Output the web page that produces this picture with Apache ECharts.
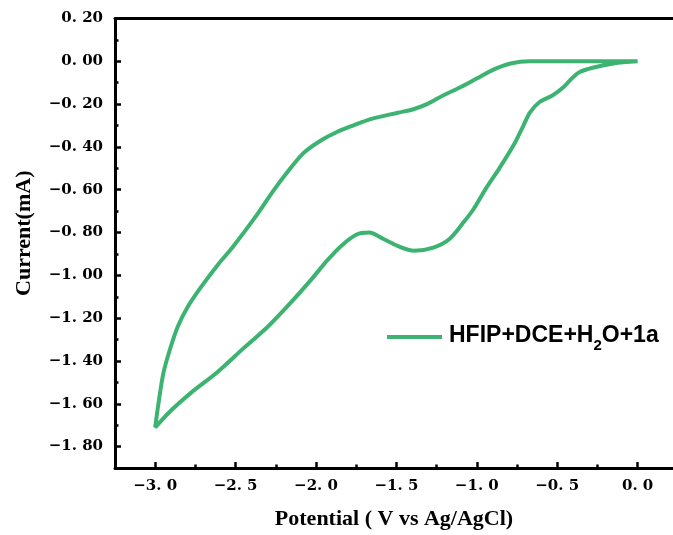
<!DOCTYPE html>
<html>
<head>
<meta charset="utf-8">
<script src="https://cdn.jsdelivr.net/npm/echarts@6/dist/echarts.min.js"></script>
<style>
  html, body { margin: 0; padding: 0; background: #ffffff; }
  #chart { width: 673px; height: 535px; }
</style>
</head>
<body>
<div id="chart"></div>
<script>
// Cathodic sweep: 0 V down to -3.0 V (reduction peak near -1.4 V)
const forwardPotential = [0.00, -0.15, -0.28, -0.36, -0.41, -0.46, -0.53, -0.61, -0.67, -0.71, -0.77, -0.86, -0.94, -1.02, -1.08, -1.17, -1.27, -1.39, -1.50, -1.58, -1.67, -1.75, -1.84, -1.93, -2.03, -2.16, -2.30, -2.45, -2.61, -2.78, -2.90, -3.00];
const forwardCurrent   = [0.00, -0.01, -0.03, -0.05, -0.08, -0.12, -0.16, -0.19, -0.24, -0.30, -0.39, -0.50, -0.59, -0.69, -0.75, -0.83, -0.87, -0.885, -0.86, -0.83, -0.80, -0.81, -0.86, -0.93, -1.02, -1.13, -1.24, -1.34, -1.45, -1.55, -1.63, -1.71];

// Return sweep: -3.0 V back to 0 V
const reversePotential = [-2.98, -2.95, -2.91, -2.86, -2.80, -2.72, -2.61, -2.52, -2.37, -2.27, -2.18, -2.08, -1.97, -1.87, -1.77, -1.66, -1.49, -1.40, -1.31, -1.21, -1.10, -1.00, -0.90, -0.79, -0.67, -0.44, 0.00];
const reverseCurrent   = [-1.60, -1.46, -1.35, -1.24, -1.15, -1.06, -0.95, -0.87, -0.72, -0.61, -0.52, -0.43, -0.37, -0.33, -0.30, -0.27, -0.24, -0.225, -0.20, -0.16, -0.12, -0.08, -0.04, -0.01, 0.00, 0.00, 0.00];

// Tick positions
const xMajorTicks = [-3.0, -2.5, -2.0, -1.5, -1.0, -0.5, 0.0];
const xMinorTicks = [-2.75, -2.25, -1.75, -1.25, -0.75, -0.25];
const yMajorTicks = [0.2, 0.0, -0.2, -0.4, -0.6, -0.8, -1.0, -1.2, -1.4, -1.6, -1.8];
const yMinorTicks = [0.1, -0.1, -0.3, -0.5, -0.7, -0.9, -1.1, -1.3, -1.5, -1.7];

const seriesName = 'HFIP+DCE+H2O+1a';
const lineColor = '#3cb371';

const cvPoints = [];
forwardPotential.forEach((v, i) => cvPoints.push([v, forwardCurrent[i]]));
reversePotential.forEach((v, i) => cvPoints.push([v, reverseCurrent[i]]));

const tickFont = { color: '#000', fontFamily: 'DejaVu Serif', fontWeight: 'bold', fontSize: 15 };
const nameFont = { color: '#000', fontFamily: 'Liberation Serif', fontWeight: 'bold', fontSize: 22 };

function fmt(v, digits) {
  const s = Math.abs(v).toFixed(digits).replace('.', '. ');
  return (v < -1e-9 ? '\u2212' : '') + s;
}

const xMin = -3.25, xMax = 0.22, yMin = -1.9, yMax = 0.2;
const axisLine = { show: true, onZero: false, lineStyle: { color: '#000', width: 3 } };
const hiddenLine = { show: false, onZero: false };

const chart = echarts.init(document.getElementById('chart'));
chart.setOption({
  animation: false,
  backgroundColor: '#ffffff',
  grid: { left: 115, right: 0, top: 18.5, bottom: 64, containLabel: false },
  legend: {
    data: [seriesName],
    left: 387,
    top: 324,
    padding: 0,
    icon: 'rect',
    itemWidth: 55,
    itemHeight: 4,
    itemGap: 0,
    formatter: () => '{t|HFIP+DCE+H}{s|2}{t|O+1a}',
    textStyle: {
      color: '#000',
      padding: [0, 0, 0, 2],
      rich: {
        t: { fontFamily: 'Liberation Sans', fontWeight: 'bold', fontSize: 23, color: '#000', verticalAlign: 'top', lineHeight: 26 },
        s: { fontFamily: 'Liberation Sans', fontWeight: 'bold', fontSize: 15, color: '#000', verticalAlign: 'top', lineHeight: 16, padding: [14, 0, 0, 0] }
      }
    }
  },
  xAxis: [
    {
      type: 'value', position: 'bottom', min: xMin, max: xMax,
      name: 'Potential ( V vs Ag/AgCl)', nameLocation: 'middle', nameGap: 40, nameTextStyle: nameFont,
      axisLine: axisLine,
      axisTick: { show: true, inside: true, length: 6, customValues: xMajorTicks, lineStyle: { color: '#000', width: 2.5 } },
      axisLabel: { show: true, margin: 11, customValues: xMajorTicks, formatter: v => fmt(v, 1), ...tickFont },
      splitLine: { show: false }
    },
    {
      type: 'value', position: 'bottom', min: xMin, max: xMax,
      axisLine: hiddenLine,
      axisTick: { show: true, inside: true, length: 3.5, customValues: xMinorTicks, lineStyle: { color: '#000', width: 2.5 } },
      axisLabel: { show: false },
      splitLine: { show: false }
    },
    {
      type: 'value', position: 'top', min: xMin, max: xMax,
      axisLine: axisLine,
      axisTick: { show: false },
      axisLabel: { show: false },
      splitLine: { show: false }
    }
  ],
  yAxis: [
    {
      type: 'value', position: 'left', min: yMin, max: yMax,
      name: 'Current(mA)', nameLocation: 'middle', nameGap: 80,
      nameTextStyle: { ...nameFont, padding: [0, 0, 0, 20] },
      axisLine: axisLine,
      axisTick: { show: true, inside: true, length: 6, customValues: yMajorTicks, lineStyle: { color: '#000', width: 2.5 } },
      axisLabel: { show: true, margin: 12, customValues: yMajorTicks, formatter: v => fmt(v, 2), ...tickFont },
      splitLine: { show: false }
    },
    {
      type: 'value', position: 'left', min: yMin, max: yMax,
      axisLine: hiddenLine,
      axisTick: { show: true, inside: true, length: 3.5, customValues: yMinorTicks, lineStyle: { color: '#000', width: 2.5 } },
      axisLabel: { show: false },
      splitLine: { show: false }
    }
  ],
  series: [
    {
      name: seriesName,
      type: 'line',
      xAxisIndex: 0,
      yAxisIndex: 0,
      data: cvPoints,
      smooth: 0.3,
      showSymbol: false,
      symbol: 'none',
      color: lineColor,
      lineStyle: { color: lineColor, width: 4 },
      z: 3
    }
  ]
});
</script>
</body>
</html>
